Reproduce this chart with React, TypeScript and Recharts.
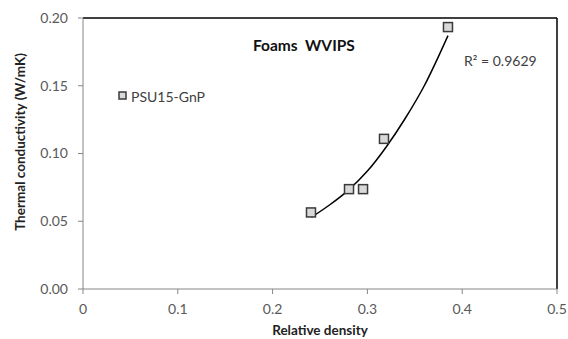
import {
    ComposedChart,
    Scatter,
    Line,
    XAxis,
    YAxis,
    ReferenceLine,
} from 'recharts';

// measured points (relative density, thermal conductivity)
const densities = [0.2405, 0.2806, 0.2954, 0.3175, 0.385];
const conductivities = [0.0565, 0.0737, 0.0737, 0.1108, 0.1933];

// exponential trendline
const trendX = [0.241, 0.26, 0.28, 0.3, 0.32, 0.34, 0.36, 0.385];
const trendY = [0.053, 0.062, 0.073, 0.087, 0.105, 0.126, 0.15, 0.187];

const xTicks = [0, 0.1, 0.2, 0.3, 0.4, 0.5];
const yTicks = [0, 0.05, 0.1, 0.15, 0.2];

const points = densities.map((x, i) => ({ x, y: conductivities[i] }));
const trend = trendX.map((x, i) => ({ x, y: trendY[i] }));

const FONT = 'Lato, "Open Sans", sans-serif';
const TICK = { fill: '#595959', fontSize: 14, fontFamily: FONT };

const SquareMark = (props: any) => {
    const { cx, cy } = props;
    if (cx == null || cy == null) return null;
    return <rect x={cx - 4.5} y={cy - 4.5} width={9} height={9} fill="#d9d9d9" stroke="#3a3a3a" strokeWidth={1.5} />;
};

const YLabel = () => {
    const cx = 20;
    const cy = 142;
    return (
        <text
            x={cx}
            y={cy}
            transform={`rotate(-90 ${cx} ${cy})`}
            textAnchor="middle"
            dominantBaseline="central"
            fontFamily={FONT}
            fontWeight="bold"
            fontSize={13.5}
            fill="#222"
        >
            Thermal conductivity (W/mK)
        </text>
    );
};

export default function App() {
    return (
        <div style={{ position: 'absolute', left: 0, top: 0, width: 568, height: 339, background: '#fff' }}>
            <ComposedChart width={568} height={339} margin={{ top: 18, right: 11, bottom: 0, left: 0 }}>
                <XAxis
                    type="number"
                    dataKey="x"
                    domain={[0, 0.5]}
                    ticks={xTicks}
                    tickFormatter={(v: number) => (v === 0 ? '0' : String(v))}
                    stroke="#868686"
                    tick={TICK}
                    tickSize={5}
                    tickMargin={10}
                    height={50}
                    allowDataOverflow
                    label={{
                        value: 'Relative density',
                        position: 'insideBottom',
                        offset: 0,
                        dy: -4,
                        style: { fontFamily: FONT, fontWeight: 'bold', fontSize: 13.5, fill: '#222' },
                    }}
                />
                <YAxis
                    type="number"
                    dataKey="y"
                    domain={[0, 0.2]}
                    ticks={yTicks}
                    tickFormatter={(v: number) => v.toFixed(2)}
                    stroke="#868686"
                    tick={TICK}
                    tickSize={5}
                    tickMargin={10}
                    width={83}
                    allowDataOverflow
                    label={<YLabel />}
                />
                <ReferenceLine y={0.2} stroke="#000" strokeWidth={1.5} />
                <ReferenceLine x={0.5} stroke="#000" strokeWidth={1.5} />
                <Line
                    data={trend}
                    dataKey="y"
                    type="monotone"
                    stroke="#000"
                    strokeWidth={1.5}
                    dot={false}
                    activeDot={false}
                    legendType="none"
                    isAnimationActive={false}
                />
                <Scatter
                    data={points}
                    dataKey="y"
                    name="PSU15-GnP"
                    shape={<SquareMark />}
                    isAnimationActive={false}
                />
                {/* legend */}
                <rect x={119} y={92} width={7} height={7} fill="#d9d9d9" stroke="#3a3a3a" strokeWidth={1.5} />
                <text x={131} y={96} dominantBaseline="central" fontFamily={FONT} fontSize={14} fill="#404040" textLength={74} lengthAdjust="spacingAndGlyphs">
                    PSU15-GnP
                </text>
                <text x={253} y={45} dominantBaseline="central" fontFamily={FONT} fontWeight="bold" fontSize={15.5} fill="#111" xmlSpace="preserve">
                    Foams  WVIPS
                </text>
                <text x={464} y={60} dominantBaseline="central" fontFamily={FONT} fontSize={14} fill="#404040">
                    R² = 0.9629
                </text>
            </ComposedChart>
        </div>
    );
}
